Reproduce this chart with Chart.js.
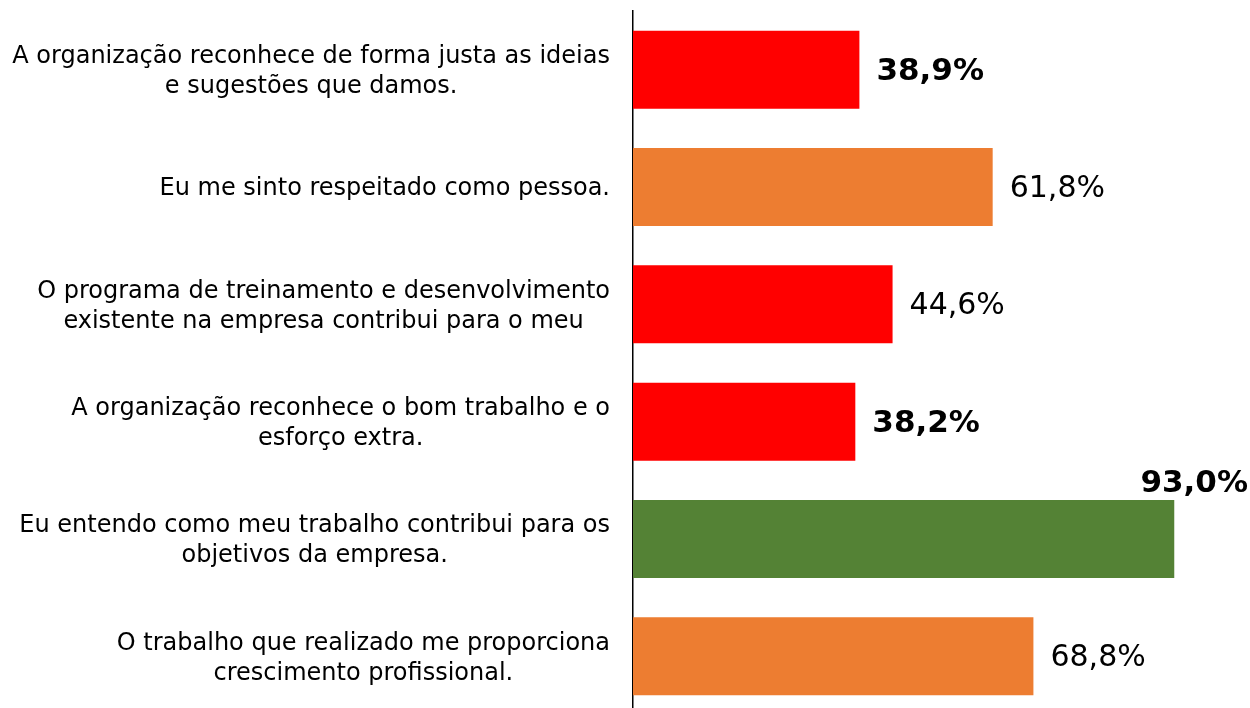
<!DOCTYPE html>
<html>
<head>
<meta charset="utf-8">
<script src="https://cdn.jsdelivr.net/npm/chart.js@4"></script>
<style>
  html, body { margin: 0; padding: 0; background: #fff; overflow: hidden; }
  #wrap { width: 1250px; height: 720px; position: relative; }
</style>
</head>
<body>
<div id="wrap"><canvas id="c"></canvas></div>
<script>
const categories = [
  ["A organização reconhece de forma justa as ideias", "e sugestões que damos."],
  ["Eu me sinto respeitado como pessoa."],
  ["O programa de treinamento e desenvolvimento", "existente na empresa contribui para o meu"],
  ["A organização reconhece o bom trabalho e o", "esforço extra."],
  ["Eu entendo como meu trabalho contribui para os", "objetivos da empresa."],
  ["O trabalho que realizado me proporciona", "crescimento profissional."]
];
const values = [38.9, 61.8, 44.6, 38.2, 93.0, 68.8];

function colorFor(v) {
  if (v < 50) return '#FF0000';
  if (v < 90) return '#ED7D31';
  return '#548235';
}
function isBold(v) { return v < 40 || v > 90; }
function fmt(v) { return v.toFixed(1).replace('.', ',') + '%'; }

const FONT = "'DejaVu Sans', Verdana, sans-serif";
const LABEL_SIZE = 24;
const LABEL_LINE = 30;
const LABEL_GAP = 23;

// Category labels: block right-aligned to the axis, lines centred within the block
const catLabelPlugin = {
  id: 'catLabels',
  afterDraw(chart) {
    const ctx = chart.ctx;
    const ys = chart.scales.y;
    ctx.save();
    ctx.fillStyle = '#000';
    ctx.font = LABEL_SIZE + 'px ' + FONT;
    ctx.textBaseline = 'middle';
    ctx.textAlign = 'center';
    categories.forEach((lines, i) => {
      const yc = ys.getPixelForTick(i) + 2;
      const maxW = Math.max(...lines.map(l => ctx.measureText(l).width));
      const cx = chart.chartArea.left - LABEL_GAP - maxW / 2;
      const y0 = yc - (lines.length - 1) * LABEL_LINE / 2;
      lines.forEach((l, j) => ctx.fillText(l, cx, y0 + j * LABEL_LINE));
    });
    ctx.restore();
  }
};

const labelPlugin = {
  id: 'valueLabels',
  afterDatasetsDraw(chart) {
    const ctx = chart.ctx;
    const meta = chart.getDatasetMeta(0);
    ctx.save();
    ctx.fillStyle = '#000';
    meta.data.forEach((bar, i) => {
      const v = values[i];
      const txt = fmt(v);
      ctx.font = isBold(v) ? ('bold 31px ' + FONT) : ('30px ' + FONT);
      const w = ctx.measureText(txt).width;
      const x = bar.x + 17;
      if (x + w > chart.width - 2) {
        ctx.textAlign = 'right';
        ctx.textBaseline = 'alphabetic';
        ctx.fillText(txt, chart.width - 2, bar.y - bar.height / 2 - 8);
      } else {
        ctx.textAlign = 'left';
        ctx.textBaseline = 'middle';
        ctx.fillText(txt, x, bar.y + 2);
      }
    });
    ctx.restore();
  }
};

new Chart(document.getElementById('c'), {
  type: 'bar',
  data: {
    labels: categories,
    datasets: [{
      data: values,
      backgroundColor: values.map(colorFor),
      borderWidth: 0,
      barPercentage: 0.665,
      categoryPercentage: 1.0
    }]
  },
  options: {
    indexAxis: 'y',
    responsive: true,
    maintainAspectRatio: false,
    animation: false,
    layout: { padding: { top: 11, bottom: 5, left: 0, right: 35 } },
    plugins: { legend: { display: false }, tooltip: { enabled: false } },
    scales: {
      x: { display: false, min: 0, max: 100 },
      y: {
        grid: { display: false, drawTicks: false },
        border: { display: true, color: '#000', width: 1.5 },
        ticks: { display: false },
        afterFit(scale) {
          scale.width = 633;
          scale.paddingTop = 0;
          scale.paddingBottom = 0;
        }
      }
    }
  },
  plugins: [labelPlugin, catLabelPlugin]
});
</script>
</body>
</html>
